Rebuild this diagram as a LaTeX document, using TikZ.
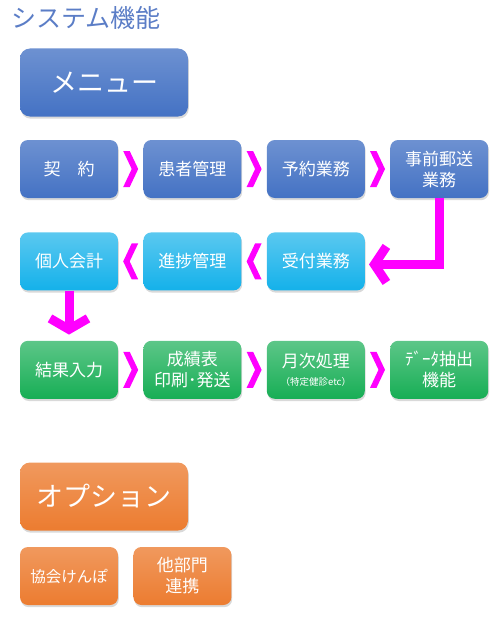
\documentclass[tikz,border=0pt]{standalone}
\usepackage{fontspec}
\setmainfont{Noto Sans CJK JP}
\usetikzlibrary{arrows.meta, positioning, calc, shadows}
\definecolor{menublue}{HTML}{4472C4}
\definecolor{titleblue}{HTML}{5B7DC6}
\definecolor{skyblue}{HTML}{14B1EA}
\definecolor{leafgreen}{HTML}{17AE55}
\definecolor{tangerine}{HTML}{EC7C30}
\definecolor{pinkarrow}{HTML}{FF00FF}

\begin{document}
\begin{tikzpicture}[
    x=1pt, y=-1pt,
    node distance=34pt and 25pt,
    base/.style={
        rectangle, rounded corners=8pt, minimum width=98pt, minimum height=58pt,
        text=white, align=center, font=\fontsize{17}{21}\selectfont,
        drop shadow={opacity=0.3, shadow xshift=0.8pt, shadow yshift=-2.2pt}
    },
    bluebox/.style={base, top color=menublue!78!white, bottom color=menublue},
    skybox/.style={base, top color=skyblue!70!white, bottom color=skyblue},
    greenbox/.style={base, top color=leafgreen!70!white, bottom color=leafgreen},
    orangebox/.style={base, top color=tangerine!78!white, bottom color=tangerine},
    bigbox/.style={minimum width=168pt, minimum height=68pt, rounded corners=10pt,
        font=\fontsize{27}{32}\selectfont},
    ttl/.style={font=\fontsize{25}{30}\selectfont, text=titleblue, inner sep=0pt},
    link/.style={draw=pinkarrow, line width=9pt},
    chevright/.pic={\fill[pinkarrow] (-7.5,-18) -- (-1,-18) -- (7.5,0) -- (-1,18) -- (-7.5,18) -- (1,0) -- cycle;},
    chevleft/.pic={\fill[pinkarrow] (7.5,-18) -- (1,-18) -- (-7.5,0) -- (1,18) -- (7.5,18) -- (-1,0) -- cycle;},
]
\useasboundingbox (0,0) rectangle (500,626);

% Title
\node[ttl, anchor=west] (title) at (11,18) {システム機能};

% Menu
\node[bluebox, bigbox] (menu) at (104,82.5) {メニュー};

% Row 1
\node[bluebox] (keiyaku) at (69,169) {契　約};
\node[bluebox, right=of keiyaku] (kanja) {患者管理};
\node[bluebox, right=of kanja] (yoyaku) {予約業務};
\node[bluebox, right=of yoyaku] (jizen) {事前郵送\\業務};

% Row 2
\node[skybox, below=of keiyaku] (kojin) {個人会計};
\node[skybox, right=of kojin] (shinchoku) {進捗管理};
\node[skybox, right=of shinchoku] (uketsuke) {受付業務};

% Row 3
\node[greenbox, below=50pt of kojin] (kekka) {結果入力};
\node[greenbox, right=of kekka] (seiseki) {成績表\\印刷･発送};
\node[greenbox, right=of seiseki] (getsuji) {月次処理\\[-3pt]{\fontsize{9.5}{11}\selectfont （特定健診etc）}};
\node[greenbox, right=of getsuji] (data) {ﾃﾞｰﾀ抽出\\機能};

% Chevrons between steps
\path ($(keiyaku.east)!0.5!(kanja.west)$) pic {chevright};
\path ($(kanja.east)!0.5!(yoyaku.west)$) pic {chevright};
\path ($(yoyaku.east)!0.5!(jizen.west)$) pic {chevright};
\path ($(kojin.east)!0.5!(shinchoku.west)$) pic {chevleft};
\path ($(shinchoku.east)!0.5!(uketsuke.west)$) pic {chevleft};
\path ($(kekka.east)!0.5!(seiseki.west)$) pic {chevright};
\path ($(seiseki.east)!0.5!(getsuji.west)$) pic {chevright};
\path ($(getsuji.east)!0.5!(data.west)$) pic {chevright};

% Row links
\draw[link, -{Straight Barb[length=12pt, width=36pt]}, shorten >=4pt] (jizen.south) |- ([yshift=-3pt]uketsuke.east);
\draw[link, -{Straight Barb[length=11pt, width=38pt]}, shorten >=6pt] (kojin.south) -- (kekka.north);

% Options
\node[orangebox, bigbox] (option) at (104,496.5) {オプション};
\node[orangebox, font=\fontsize{15.5}{20}\selectfont] (kyokai) at (69,576) {協会けんぽ};
\node[orangebox, right=15pt of kyokai] (tabumon) {他部門\\連携};

\end{tikzpicture}
\end{document}
